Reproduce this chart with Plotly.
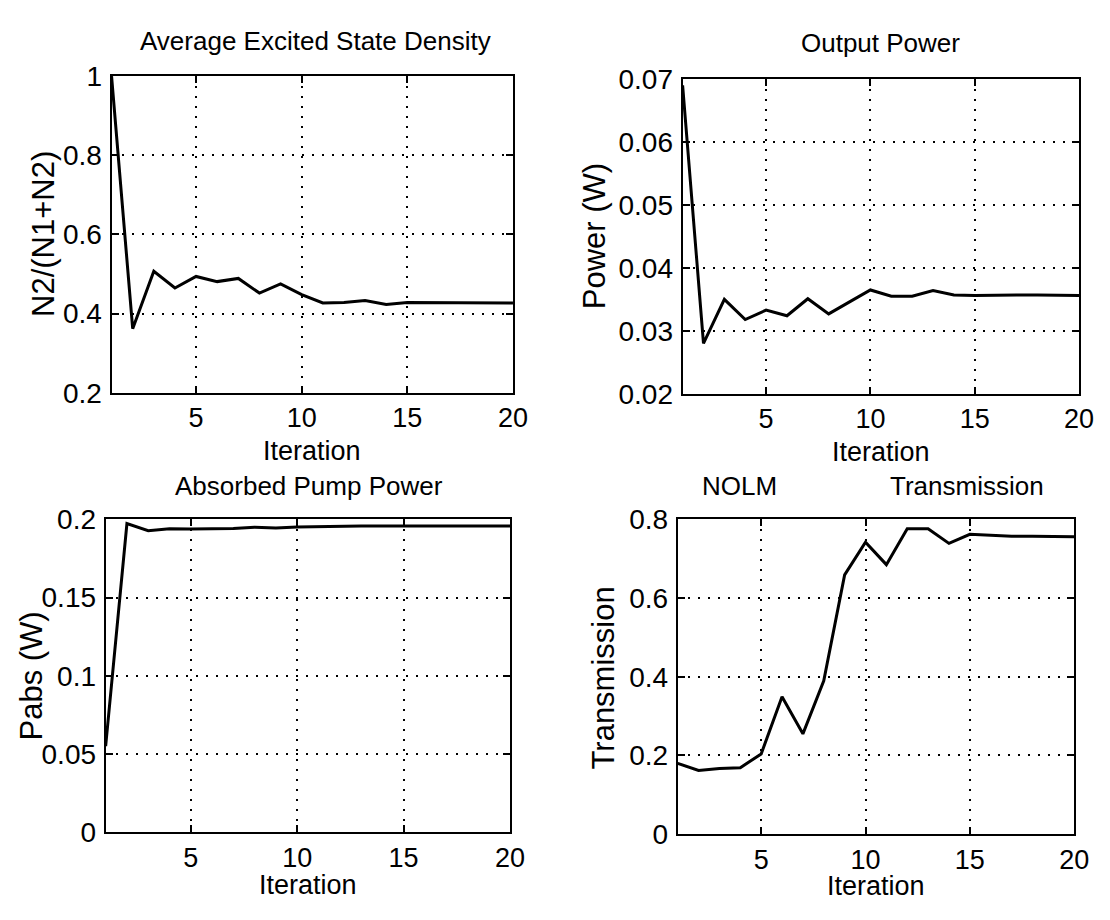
import plotly.graph_objects as go

iteration = list(range(1, 21))

density = [1.0, 0.362, 0.507, 0.465, 0.494, 0.481, 0.489, 0.452, 0.475, 0.448,
           0.427, 0.428, 0.433, 0.423, 0.428, 0.428, 0.428, 0.427, 0.427, 0.427]
output_power = [0.069, 0.028, 0.0350, 0.0318, 0.0333, 0.0324, 0.0351, 0.0327, 0.0346, 0.0365,
                0.0355, 0.0355, 0.0364, 0.0357, 0.0356, 0.0357, 0.0357, 0.0357, 0.0357, 0.0356]
absorbed_pump = [0.055, 0.1973, 0.1928, 0.1940, 0.1938, 0.1940, 0.1942, 0.1950, 0.1945, 0.1952,
                 0.1955, 0.1957, 0.1957, 0.1958, 0.1958, 0.1958, 0.1958, 0.1958, 0.1957, 0.1957]
transmission = [0.180, 0.162, 0.167, 0.169, 0.204, 0.349, 0.255, 0.390, 0.659, 0.742,
                0.685, 0.776, 0.776, 0.739, 0.762, 0.760, 0.757, 0.757, 0.756, 0.756]

x_ticks = [5, 10, 15, 20]
y1_ticks = [0.2, 0.4, 0.6, 0.8, 1.0]
y1_labels = ["0.2", "0.4", "0.6", "0.8", "1"]
y2_ticks = [0.02, 0.03, 0.04, 0.05, 0.06, 0.07]
y2_labels = ["0.02", "0.03", "0.04", "0.05", "0.06", "0.07"]
y3_ticks = [0, 0.05, 0.1, 0.15, 0.2]
y3_labels = ["0", "0.05", "0.1", "0.15", "0.2"]
y4_ticks = [0, 0.2, 0.4, 0.6, 0.8]
y4_labels = ["0", "0.2", "0.4", "0.6", "0.8"]

# The page body has an 8px margin, so the figure is 16px smaller than the
# 1110x920 window and all page positions are shifted by 8px.
PAGE_MARGIN = 8
W, H = 1110 - 2 * PAGE_MARGIN, 920 - 2 * PAGE_MARGIN
FONT = "Liberation Sans, Arial, Helvetica, sans-serif"

def px_x(p):
    return (p - PAGE_MARGIN) / W

def px_y(p):
    return 1 - (p - PAGE_MARGIN) / H

# plot frames in page pixels: (left, right, top, bottom)
frames = [
    (113, 520, 63, 391),
    (692, 1094, 66, 392),
    (107, 517, 522, 846),
    (687, 1089, 522, 848),
]
series = [density, output_power, absorbed_pump, transmission]
yranges = [[0.2, 1.0], [0.02, 0.07], [0, 0.2], [0, 0.8]]
yticks = [(y1_ticks, y1_labels), (y2_ticks, y2_labels), (y3_ticks, y3_labels), (y4_ticks, y4_labels)]

fig = go.Figure()
layout = dict(
    width=W, height=H,
    margin=dict(l=0, r=0, t=0, b=0),
    paper_bgcolor="white", plot_bgcolor="white",
    showlegend=False,
    font=dict(family=FONT, color="black", size=28),
)

for i, (ys, fr, yr, (tv, tt)) in enumerate(zip(series, frames, yranges, yticks)):
    n = "" if i == 0 else str(i + 1)
    fig.add_trace(go.Scatter(x=iteration, y=ys, mode="lines",
                             line=dict(color="black", width=3),
                             xaxis="x" + n, yaxis="y" + n))
    l, r, t, b = fr
    common = dict(showline=True, linecolor="black", linewidth=2, mirror="ticks",
                  ticks="inside", ticklen=7, tickwidth=1.5, tickcolor="black",
                  showgrid=True, gridcolor="black", gridwidth=1.5, griddash="2px,8px",
                  zeroline=False)
    layout["xaxis" + n] = dict(domain=[px_x(l), px_x(r)], range=[1, 20], anchor="y" + n,
                               tickvals=x_ticks, ticktext=[str(v) for v in x_ticks],
                               ticklabelstandoff=0,
                               tickfont=dict(family=FONT, size=27, color="black"), **common)
    layout["yaxis" + n] = dict(domain=[px_y(b), px_y(t)], range=yr, anchor="x" + n,
                               tickvals=tv, ticktext=tt, ticklabelstandoff=2,
                               tickfont=dict(family=FONT, size=28, color="black"), **common)

annotations = []

def text(x, y, s, size=26, angle=0):
    annotations.append(dict(x=px_x(x), y=px_y(y), xref="paper", yref="paper", text=s,
                            showarrow=False, textangle=angle, xanchor="center", yanchor="middle",
                            font=dict(family=FONT, size=size, color="black")))

# subplot titles
text(320, 27, "Average Excited State Density", 26)
text(893, 29, "Output Power", 26)
text(313, 487, "Absorbed Pump Power", 26)
text(750, 487, "NOLM", 26)
text(980, 487, "Transmission", 26)
# x-axis titles
text(316, 451, "Iteration", 27)
text(893, 452, "Iteration", 27)
text(312, 901, "Iteration", 27)
text(888, 902, "Iteration", 27)
# y-axis titles
text(44, 227, "N2/(N1+N2)", 31, -90)
text(603, 229, "Power (W)", 31, -90)
text(32, 684, "Pabs (W)", 31, -90)
text(612, 686, "Transmission", 31, -90)

layout["annotations"] = annotations
fig.update_layout(**layout)
fig.write_html("out.html")
